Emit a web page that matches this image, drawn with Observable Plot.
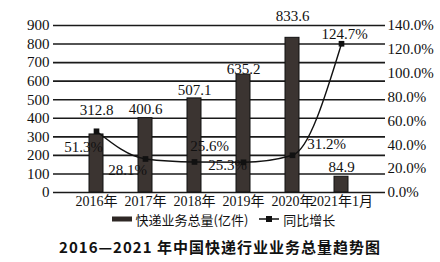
<!DOCTYPE html>
<html><head><meta charset="utf-8">
<script src="https://cdn.jsdelivr.net/npm/d3@7"></script>
<script src="https://cdn.jsdelivr.net/npm/@observablehq/plot@0.6"></script>
<style>
body{margin:0;background:#fff;width:440px;overflow:hidden}
#legend{height:18px;display:flex;justify-content:center;align-items:center;font-family:"Noto Sans CJK SC",sans-serif;font-size:13px;color:#111;margin-left:6px}
#legend span{display:inline-flex;align-items:center}
#title{margin-top:8px;text-align:center;font-family:"Noto Sans CJK SC",sans-serif;font-weight:bold;font-size:15px;letter-spacing:1px;color:#111}
</style></head>
<body><div id="chart"></div>
<div id="legend"><span><svg width="22" height="10"><rect x="1" y="2.5" width="20" height="5" fill="#2e2825"/></svg>&nbsp;快递业务总量(亿件)</span><span style="margin-left:10px"><svg width="22" height="10"><line x1="1" x2="21" y1="5" y2="5" stroke="#111" stroke-width="1.5"/><rect x="8" y="2" width="6" height="6" fill="#111"/></svg>&nbsp;同比增长</span></div>
<div id="title">2016—2021 年中国快递行业业务总量趋势图</div>
<script>
const years = ["2016年","2017年","2018年","2019年","2020年","2021年1月"];
const volume = [312.8, 400.6, 507.1, 635.2, 833.6, 84.9];
const growth = [51.3, 28.1, 25.6, 25.3, 31.2, 124.7];
const leftTicks = [0,100,200,300,400,500,600,700,800,900];
const rightTicks = [0,20,40,60,80,100,120,140];

const K = 900/140;
const data = years.map((y,i)=>({year:y, volume:volume[i], growth:growth[i], g:growth[i]*K}));
const serif = '"Liberation Serif","Noto Sans CJK SC",serif';

// label offsets (layout only)
const volOff = [[0,-24],[0,-9],[0,-8],[0,-5],[0,-22],[0,-10]];
const pctOff = [[-13,16],[-18,11],[15,-16],[-16,3],[34,-11],[3,-10]];

const marks = [
  Plot.ruleY(leftTicks, {stroke:"#1a1a1a", strokeWidth:1.6}),
  Plot.barY(data, {x:"year", y:"volume", fill:"#3b3431", stroke:"#111", strokeWidth:1, inset:0}),
  Plot.line(data, {x:"year", y:"g", stroke:"#111", strokeWidth:1.4, curve:"monotone-x"}),
  Plot.dot(data, {x:"year", y:"g", symbol:"square", r:3.2, fill:"#111", stroke:"none"}),
  Plot.axisY(leftTicks, {anchor:"left", tickSize:0, tickPadding:4, fontSize:15, fontFamily:serif, fill:"#111", label:null}),
  Plot.axisY(rightTicks.map(p=>p*K), {anchor:"right", tickSize:0, tickPadding:2, fontSize:15, fontFamily:serif, fill:"#111", label:null,
     tickFormat: d => (Math.round(d/K)).toFixed(1)+"%"}),
  Plot.axisX({tickSize:0, tickPadding:4, fontSize:14, fontFamily:serif, fill:"#111", label:null})
];
data.forEach((d,i)=>{
  marks.push(Plot.text([d], {x:"year", y:"volume", text:d=>d.volume.toFixed(1), dx:volOff[i][0], dy:volOff[i][1], fontSize:15, fontFamily:serif, fill:"#111"}));
  marks.push(Plot.text([d], {x:"year", y:"g", text:d=>d.growth.toFixed(1)+"%", dx:pctOff[i][0], dy:pctOff[i][1], fontSize:15, fontFamily:serif, fill:"#111"}));
});

const chart = Plot.plot({
  width:440, height:210,
  marginLeft:53, marginRight:55, marginTop:25, marginBottom:18,
  style:{background:"#fff", fontFamily:serif, overflow:"visible"},
  x:{domain:years, padding:0.71, align:0.5, axis:null},
  y:{domain:[0,900], axis:null},
  marks
});
document.getElementById("chart").appendChild(chart);
</script></body></html>
